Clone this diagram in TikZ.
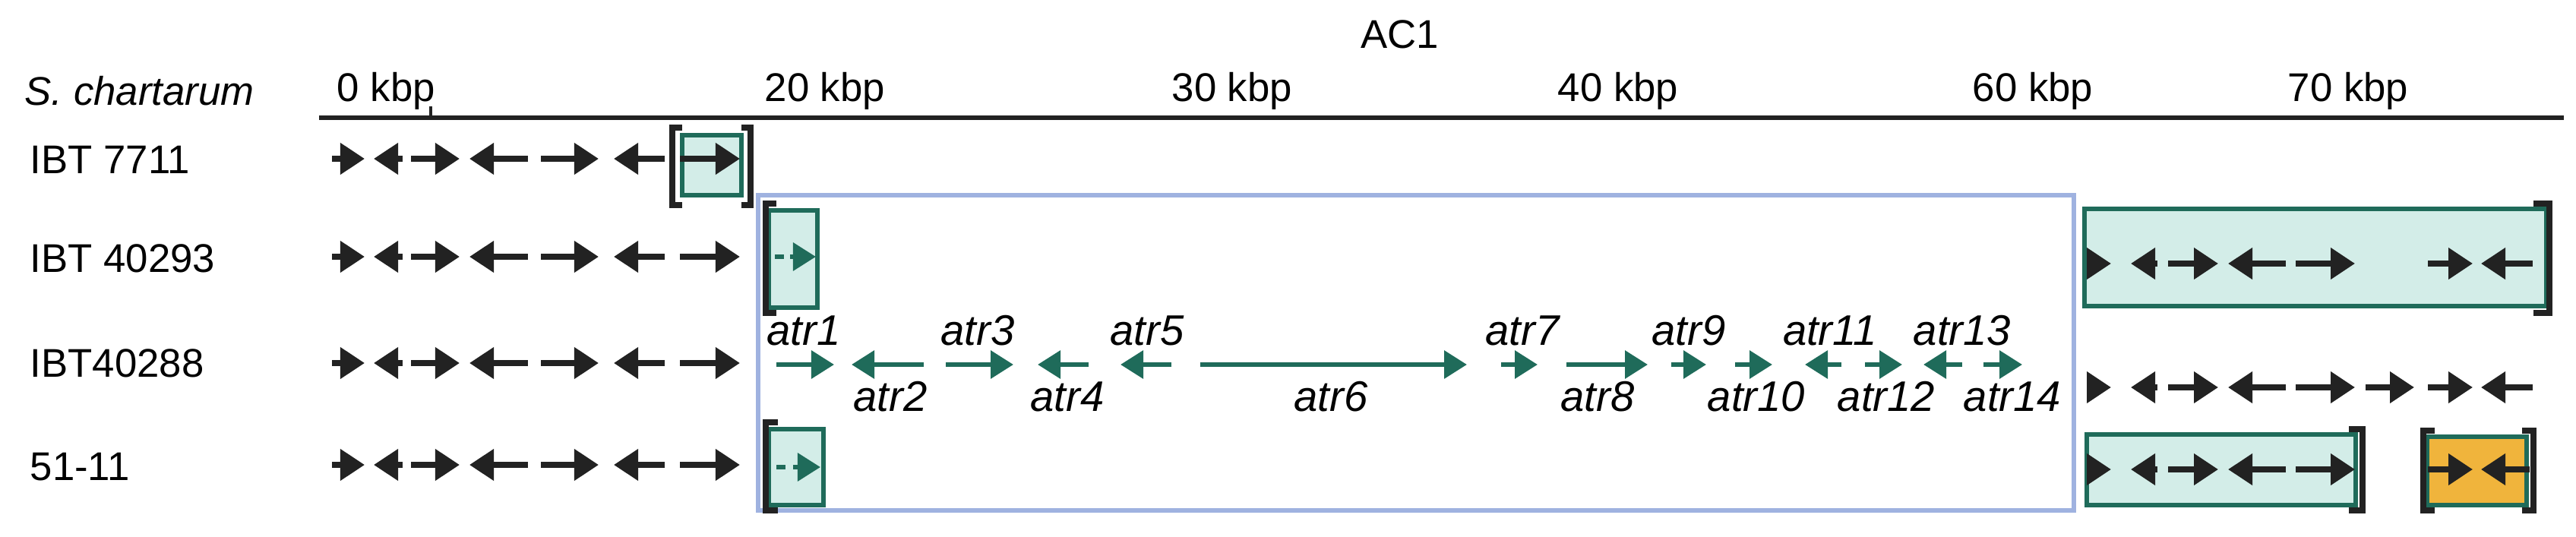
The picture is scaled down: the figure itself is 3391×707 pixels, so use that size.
\documentclass[tikz,border=0pt]{standalone}
\usepackage{fontspec}
\setmainfont{Liberation Sans}
\usetikzlibrary{arrows.meta}
\definecolor{gdark}{HTML}{1F6B5A}
\definecolor{glight}{HTML}{D3EDE8}
\definecolor{orng}{HTML}{F0B43C}
\definecolor{bluebox}{HTML}{9FB2E0}
\definecolor{blk}{HTML}{222222}
\tikzset{
  gene/.style={line width=2.1pt,draw=blk,-{Triangle[length=0.32cm,width=0.4cm]}},
  atr/.style={line width=1.8pt,draw=gdark,-{Triangle[length=0.3cm,width=0.36cm]}},
  lab/.style={font=\fontsize{15}{17}\selectfont,anchor=west,inner sep=0pt},
  alab/.style={font=\fontsize{16}{18}\selectfont\itshape,inner sep=0pt},
  gbox/.style={draw=gdark,fill=glight,line width=1.6pt},
  brk/.style={draw=blk,line width=2.2pt},
}
\newcommand{\R}[3]{\draw[gene] (#1,#3) -- (#2,#3);}
\newcommand{\Lf}[3]{\draw[gene] (#2,#3) -- (#1,#3);}
\newcommand{\leftrow}[1]{\R{437}{480}{#1}\Lf{492}{530}{#1}\R{541}{605}{#1}\Lf{618}{695}{#1}\R{712}{788}{#1}\Lf{808}{875}{#1}\R{895}{974}{#1}}
\begin{document}
\begin{tikzpicture}[x=0.01cm,y=-0.01cm]
\useasboundingbox (0,0) rectangle (3391,707);
% header
\node[font=\fontsize{15}{17}\selectfont,inner sep=0pt] (ac) at (1843,45) {AC1};
\node[lab,font=\fontsize{15}{17}\selectfont\itshape] (sc) at (32,120) {S. chartarum};
\draw[line width=1.6pt,draw=blk] (420,155) -- (3375,155);
\draw[line width=1.4pt,draw=blk] (567,140) -- (567,155);
\node[lab] (t0) at (443,120) {0 kbp};
\node[lab] (t20) at (1006,120) {20 kbp};
\node[lab] (t30) at (1542,120) {30 kbp};
\node[lab] (t40) at (2050,120) {40 kbp};
\node[lab] (t60) at (2596,120) {60 kbp};
\node[lab] (t70) at (3011,120) {70 kbp};
% row labels
\node[lab] (r1) at (39,210) {IBT 7711};
\node[lab] (r2) at (39,340) {IBT 40293};
\node[lab] (r3) at (39,478) {IBT40288};
\node[lab] (r4) at (39,615) {51-11};
% blue region
\draw[bluebox,line width=1.5pt] (998,257) rectangle (2730,672);
% row 1
\draw[gbox] (898,178) rectangle (976,257);
\draw[brk] (898,168) -- (885,168) -- (885,270) -- (898,270);
\draw[brk] (976,168) -- (988,168) -- (988,270) -- (976,270);
\leftrow{209}
% row 2
\leftrow{338}
\draw[gbox] (1012,277) rectangle (1076,405);
\draw[brk] (1022,268) -- (1008,268) -- (1008,412) -- (1022,412);
\draw[gdark,line width=1.7pt] (1020,338) -- (1032,338);
\draw[atr] (1040,338) -- (1074,338);
\draw[gbox] (2744,275) rectangle (3352,403);
\draw[brk] (3335,268) -- (3356,268) -- (3356,412) -- (3335,412);
\R{2748}{2779}{347}\Lf{2805}{2840}{347}\R{2854}{2920}{347}\Lf{2933}{3009}{347}\R{3022}{3100}{347}\R{3196}{3255}{347}\Lf{3266}{3334}{347}
% row 3
\leftrow{478}
\R{2748}{2779}{510}\Lf{2805}{2840}{510}\R{2854}{2920}{510}\Lf{2933}{3009}{510}\R{3022}{3100}{510}\R{3114}{3178}{510}\R{3196}{3255}{510}\Lf{3266}{3334}{510}
% atr genes
\draw[atr] (1022,480) -- (1098,480);
\draw[atr] (1216,480) -- (1121,480);
\draw[atr] (1245,480) -- (1334,480);
\draw[atr] (1433,480) -- (1366,480);
\draw[atr] (1542,480) -- (1475,480);
\draw[atr] (1580,480) -- (1931,480);
\draw[atr] (1976,480) -- (2024,480);
\draw[atr] (2062,480) -- (2169,480);
\draw[atr] (2200,480) -- (2246,480);
\draw[atr] (2284,480) -- (2333,480);
\draw[atr] (2424,480) -- (2376,480);
\draw[atr] (2455,480) -- (2504,480);
\draw[atr] (2583,480) -- (2532,480);
\draw[atr] (2611,480) -- (2662,480);
\node[alab] (a1) at (1058,435) {atr1};
\node[alab] (a2) at (1172,522) {atr2};
\node[alab] (a3) at (1287,435) {atr3};
\node[alab] (a4) at (1405,522) {atr4};
\node[alab] (a5) at (1510,435) {atr5};
\node[alab] (a6) at (1752,522) {atr6};
\node[alab] (a7) at (2004,435) {atr7};
\node[alab] (a8) at (2103,522) {atr8};
\node[alab] (a9) at (2223,435) {atr9};
\node[alab] (a10) at (2312,522) {atr10};
\node[alab] (a11) at (2409,435) {atr11};
\node[alab] (a12) at (2483,522) {atr12};
\node[alab] (a13) at (2583,435) {atr13};
\node[alab] (a14) at (2649,522) {atr14};
% row 4
\leftrow{612}
\draw[gbox] (1012,565) rectangle (1084,665);
\draw[brk] (1024,556) -- (1008,556) -- (1008,672) -- (1024,672);
\draw[gdark,line width=1.7pt] (1022,615) -- (1034,615);
\draw[atr] (1044,615) -- (1080,615);
\draw[gbox] (2747,572) rectangle (3101,665);
\draw[brk] (3092,565) -- (3110,565) -- (3110,672) -- (3092,672);
\R{2748}{2779}{618}\Lf{2805}{2840}{618}\R{2854}{2920}{618}\Lf{2933}{3009}{618}\R{3022}{3100}{618}
\draw[gdark,fill=orng,line width=1.6pt] (3195,575) rectangle (3326,665);
\draw[brk] (3205,567) -- (3190,567) -- (3190,672) -- (3205,672);
\draw[brk] (3320,567) -- (3335,567) -- (3335,672) -- (3320,672);
\R{3196}{3255}{618}\Lf{3266}{3330}{618}
\end{tikzpicture}
\end{document}
